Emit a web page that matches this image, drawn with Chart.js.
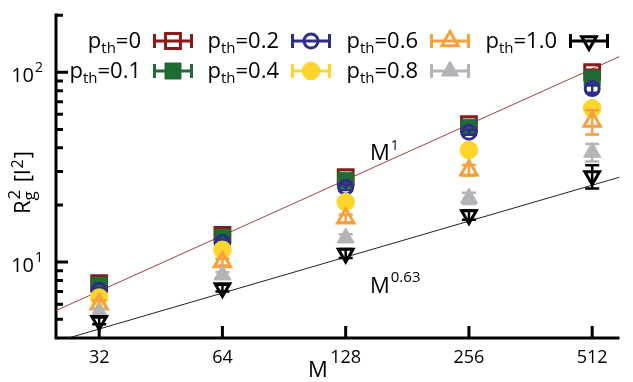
<!DOCTYPE html>
<html>
<head>
<meta charset="utf-8">
<script src="https://cdn.jsdelivr.net/npm/chart.js@4.4.1/dist/chart.umd.min.js"></script>
<style>
  html, body { margin: 0; padding: 0; background: #fff; }
  #wrap { width: 633px; height: 382px; }
</style>
</head>
<body>
<div id="wrap"><canvas id="rgChart" width="633" height="382"></canvas></div>
<script>
// chain length M
const chainLength = [32, 64, 128, 256, 512];

// Rg^2 for each p_th
const rgP00 = [7.75, 13.9, 28.0, 53.3, 100];
const rgP01 = [7.55, 13.5, 27.0, 51.4, 93];
const rgP02 = [7.1, 12.7, 24.8, 48.3, 82];
const rgP04 = [6.5, 11.6, 20.7, 38.9, 64.6];
const rgP06 = [6.0, 10.0, 17.0, 30.5, 55];
const rgP08 = [5.45, 8.55, 13.4, 21.7, 37.9];
const rgP10 = [4.9, 7.3, 11.1, 17.7, 28.4];

// error bars (+/-)
const errP00 = [0.2, 0.4, 0.8, 1.5, 3];
const errP01 = [0.2, 0.4, 0.8, 1.5, 3];
const errP02 = [0.2, 0.4, 0.8, 1.5, 4];
const errP04 = [0.2, 0.3, 0.6, 1.2, 3];
const errP06 = [0.3, 0.4, 0.8, 2, 8];
const errP08 = [0.2, 0.3, 0.6, 1.5, 4];
const errP10 = [0.2, 0.3, 0.6, 1, 4];

// guide lines M^1 and M^0.63 (end points)
const guideX = [25.1, 597];
const guideM1 = [5.55, 121];
const guideM063 = [3.81, 28.0];

// ticks
const xTicks = [32, 64, 128, 256, 512];
const yMajor = [10, 100];
const yMajorLabels = ['10', '10'];
const yMajorExp = ['1', '2'];
const yMinor = [5, 6, 7, 8, 9, 20, 30, 40, 50, 60, 70, 80, 90, 200];

const FONT = '"Open Sans", "DejaVu Sans", sans-serif';

function pts(ys) {
    return chainLength.map((m, i) => ({ x: m, y: ys[i] }));
}

// series definition
const series = [
    { label: '0',   data: rgP00, err: errP00, color: '#8b1a1a', style: 'rect',     rot: 0,   open: true,  r: 10.5 },
    { label: '0.1', data: rgP01, err: errP01, color: '#1e6b34', style: 'rect',     rot: 0,   open: false, r: 11.3 },
    { label: '0.2', data: rgP02, err: errP02, color: '#2e2e8a', style: 'circle',   rot: 0,   open: true,  r: 7 },
    { label: '0.4', data: rgP04, err: errP04, color: '#fdd52d', style: 'circle',   rot: 0,   open: false, r: 8.8 },
    { label: '0.6', data: rgP06, err: errP06, color: '#f7a03c', style: 'triangle', rot: 0,   open: true,  r: 9.5 },
    { label: '0.8', data: rgP08, err: errP08, color: '#b4b4b8', style: 'triangle', rot: 0,   open: false, r: 10 },
    { label: '1.0', data: rgP10, err: errP10, color: '#000000', style: 'triangle', rot: 180, open: true,  r: 8.5 }
];

const datasets = series.map((s, i) => ({
    label: 'p_th=' + s.label,
    data: pts(s.data),
    errors: s.err,
    showLine: false,
    pointStyle: s.style,
    rotation: s.rot,
    pointRadius: s.r,
    pointHoverRadius: s.r,
    borderColor: s.color,
    backgroundColor: s.open ? 'rgba(0,0,0,0)' : s.color,
    pointBorderWidth: s.open ? 3 : 1,
    order: 10 - i // later p_th drawn on top
}));

datasets.push({
    label: 'M^1',
    data: guideX.map((v, i) => ({ x: v, y: guideM1[i] })),
    showLine: true,
    borderColor: '#a0403c',
    borderWidth: 1,
    pointRadius: 0,
    order: 20
});
datasets.push({
    label: 'M^0.63',
    data: guideX.map((v, i) => ({ x: v, y: guideM063[i] })),
    showLine: true,
    borderColor: '#222',
    borderWidth: 1,
    pointRadius: 0,
    order: 20
});

// draw a marker shape (for legend)
function marker(ctx, s, x, y) {
    ctx.save();
    ctx.strokeStyle = s.color;
    ctx.fillStyle = s.open ? 'rgba(0,0,0,0)' : s.color;
    ctx.lineWidth = s.open ? 3 : 1;
    Chart.helpers.drawPoint(ctx, { pointStyle: s.style, rotation: s.rot, radius: s.r, borderWidth: ctx.lineWidth }, x, y);
    ctx.restore();
}

// "p" with subscript "th" + "=value"
function pthText(ctx, val, xRight, y) {
    const big = '22px ' + FONT, small = '15px ' + FONT;
    ctx.font = big; const wp = ctx.measureText('p').width;
    const wv = ctx.measureText('=' + val).width;
    ctx.font = small; const wt = ctx.measureText('th').width;
    let x = xRight - (wp + wt + wv);
    ctx.textAlign = 'left'; ctx.textBaseline = 'alphabetic';
    ctx.font = big; ctx.fillText('p', x, y); x += wp;
    ctx.font = small; ctx.fillText('th', x, y + 5); x += wt;
    ctx.font = big; ctx.fillText('=' + val, x, y);
}

const errorBars = {
    id: 'errorBars',
    beforeDatasetDraw(chart, args) {
        const ds = chart.data.datasets[args.index];
        if (!ds.errors) return;
        const { ctx } = chart;
        const y = chart.scales.y;
        ctx.save();
        ctx.strokeStyle = ds.borderColor;
        ctx.lineWidth = 2.5;
        args.meta.data.forEach((p, i) => {
            const v = ds.data[i].y, e = ds.errors[i];
            const top = y.getPixelForValue(v + e), bot = y.getPixelForValue(v - e);
            ctx.beginPath();
            ctx.moveTo(p.x, top); ctx.lineTo(p.x, bot);
            ctx.moveTo(p.x - 7, top); ctx.lineTo(p.x + 7, top);
            ctx.moveTo(p.x - 7, bot); ctx.lineTo(p.x + 7, bot);
            ctx.stroke();
        });
        ctx.restore();
    }
};

const axesAndText = {
    id: 'axesAndText',
    beforeDatasetsDraw(chart) {
        const { ctx, chartArea: a } = chart;
        const x = chart.scales.x, y = chart.scales.y;
        ctx.save();
        ctx.strokeStyle = '#000';
        ctx.lineWidth = 3;
        ctx.lineCap = 'butt';
        ctx.beginPath();
        ctx.moveTo(a.left, a.top);
        ctx.lineTo(a.left, a.bottom);
        ctx.lineTo(a.right, a.bottom);
        ctx.stroke();
        ctx.beginPath();
        xTicks.forEach(v => {
            const px = x.getPixelForValue(v);
            ctx.moveTo(px, a.bottom); ctx.lineTo(px, a.bottom - 12);
        });
        yMajor.forEach(v => {
            const py = y.getPixelForValue(v);
            ctx.moveTo(a.left, py); ctx.lineTo(a.left + 12, py);
        });
        yMinor.forEach(v => {
            const py = y.getPixelForValue(v);
            ctx.moveTo(a.left, py); ctx.lineTo(a.left + 7, py);
        });
        ctx.stroke();

        ctx.fillStyle = '#000';
        // x tick labels
        ctx.font = '18px ' + FONT;
        ctx.textAlign = 'center'; ctx.textBaseline = 'middle';
        xTicks.forEach(v => ctx.fillText(String(v), x.getPixelForValue(v), 358));
        // y tick labels
        yMajor.forEach((v, i) => {
            const py = y.getPixelForValue(v);
            ctx.font = '20px ' + FONT; ctx.textAlign = 'right'; ctx.textBaseline = 'middle';
            ctx.fillText(yMajorLabels[i], 34, py + 4);
            ctx.font = '14px ' + FONT; ctx.textAlign = 'left';
            ctx.fillText(yMajorExp[i], 35, py - 4);
        });
        // x title
        ctx.font = '22px ' + FONT; ctx.textAlign = 'center'; ctx.textBaseline = 'middle';
        ctx.fillText('M', 318, 371);
        // y title
        ctx.save();
        ctx.translate(24, 214);
        ctx.rotate(-Math.PI / 2);
        ctx.textAlign = 'left'; ctx.textBaseline = 'middle';
        let tx = 0;
        ctx.font = '22px ' + FONT; ctx.fillText('R', tx, 0); tx += ctx.measureText('R').width;
        ctx.font = '17px ' + FONT; ctx.fillText('g', tx, 6); ctx.fillText('2', tx + 1, -9);
        tx += ctx.measureText('g').width + 9;
        ctx.font = '22px ' + FONT; ctx.fillText('[l', tx, 0); tx += ctx.measureText('[l').width + 1;
        ctx.font = '16px ' + FONT; ctx.fillText('2', tx, -6); tx += ctx.measureText('2').width + 1;
        ctx.font = '22px ' + FONT; ctx.fillText(']', tx, 0);
        ctx.restore();
        // guide labels
        ctx.textAlign = 'left'; ctx.textBaseline = 'alphabetic';
        ctx.font = '22px ' + FONT; ctx.fillText('M', 370, 160);
        let w = ctx.measureText('M').width;
        ctx.font = '14px ' + FONT; ctx.fillText('1', 370 + w + 1, 150);
        ctx.font = '22px ' + FONT; ctx.fillText('M', 370, 293);
        ctx.font = '15px ' + FONT; ctx.fillText('0.63', 370 + w + 1, 282);
        ctx.restore();
    },
    afterDraw(chart) {
        const { ctx } = chart;
        // legend, two rows, column-major
        const cols = [153, 291, 430, 569];
        const rows = [41, 71];
        ctx.save();
        ctx.fillStyle = '#000';
        series.forEach((s, i) => {
            const col = Math.floor(i / 2), row = i % 2;
            const sx = cols[col], cy = rows[row];
            pthText(ctx, s.label, sx - 12, cy + 7);
            ctx.save();
            ctx.strokeStyle = s.color; ctx.lineWidth = 3;
            ctx.beginPath();
            ctx.moveTo(sx, cy); ctx.lineTo(sx + 40, cy);
            ctx.moveTo(sx + 1.5, cy - 7); ctx.lineTo(sx + 1.5, cy + 7);
            ctx.moveTo(sx + 38.5, cy - 7); ctx.lineTo(sx + 38.5, cy + 7);
            ctx.stroke();
            ctx.restore();
            marker(ctx, s, sx + 20, cy);
        });
        ctx.restore();
    }
};

const ctx = document.getElementById('rgChart').getContext('2d');
const rgChart = new Chart(ctx, {
    type: 'scatter',
    data: { datasets: datasets },
    options: {
        responsive: false,
        animation: false,
        layout: { padding: { left: 56, right: 0, top: 13, bottom: 44 } },
        scales: {
            x: { type: 'logarithmic', min: 25.1, max: 597, display: false },
            y: { type: 'logarithmic', min: 3.98, max: 204, display: false }
        },
        plugins: {
            legend: { display: false },
            tooltip: { enabled: false }
        }
    },
    plugins: [errorBars, axesAndText]
});
</script>
</body>
</html>
